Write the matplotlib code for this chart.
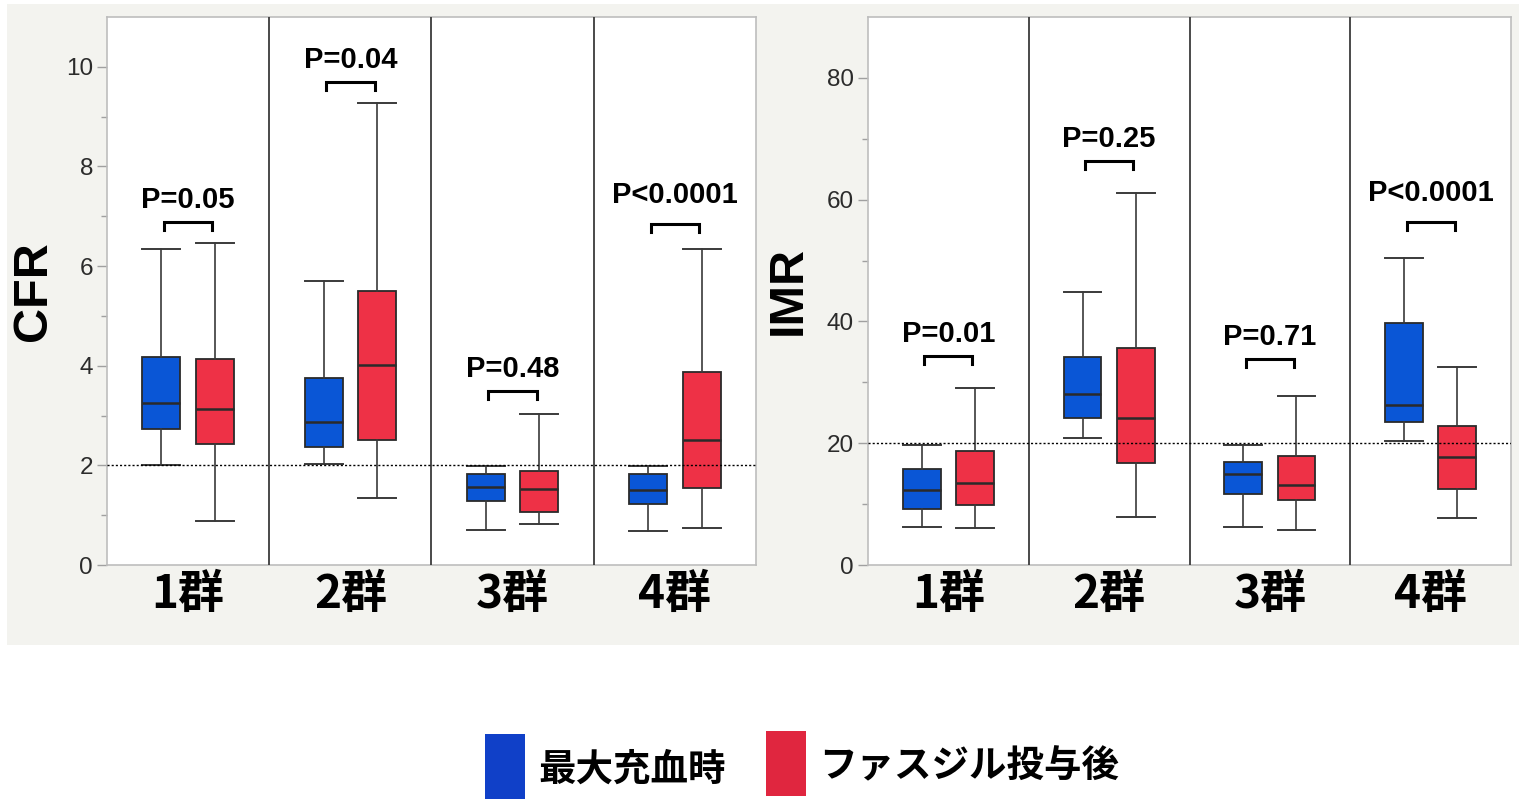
import matplotlib
matplotlib.use("Agg")
import matplotlib.pyplot as plt
from matplotlib.patches import Rectangle

# ---- data -------------------------------------------------------------
groups = ["1群", "2群", "3群", "4群"]
series = ["最大充血時", "ファスジル投与後"]

# CFR: maximal hyperemia
cfr_max_low = [2.00, 2.03, 0.70, 0.68]
cfr_max_q1 = [2.72, 2.37, 1.29, 1.23]
cfr_max_med = [3.25, 2.88, 1.56, 1.50]
cfr_max_q3 = [4.18, 3.75, 1.82, 1.82]
cfr_max_high = [6.35, 5.70, 1.99, 1.99]
# CFR: after fasudil
cfr_fas_low = [0.89, 1.35, 0.82, 0.75]
cfr_fas_q1 = [2.42, 2.51, 1.07, 1.55]
cfr_fas_med = [3.14, 4.02, 1.53, 2.51]
cfr_fas_q3 = [4.14, 5.50, 1.89, 3.88]
cfr_fas_high = [6.47, 9.28, 3.03, 6.35]
cfr_p = ["P=0.05", "P=0.04", "P=0.48", "P<0.0001"]

# IMR: maximal hyperemia
imr_max_low = [6.2, 20.9, 6.2, 20.4]
imr_max_q1 = [9.2, 24.1, 11.6, 23.5]
imr_max_med = [12.3, 28.1, 14.9, 26.3]
imr_max_q3 = [15.8, 34.2, 16.9, 39.7]
imr_max_high = [19.7, 44.8, 19.7, 50.5]
# IMR: after fasudil
imr_fas_low = [6.0, 7.9, 5.75, 7.7]
imr_fas_q1 = [9.9, 16.8, 10.7, 12.5]
imr_fas_med = [13.4, 24.2, 13.1, 17.7]
imr_fas_q3 = [18.8, 35.6, 17.9, 22.8]
imr_fas_high = [29.1, 61.1, 27.8, 32.6]
imr_p = ["P=0.01", "P=0.25", "P=0.71", "P<0.0001"]

cfr_cutoff = 2
imr_cutoff = 20

# ---- style ------------------------------------------------------------
BLUE = "#0a56d6"
RED = "#ee3146"
LEG_BLUE = "#1040c8"
LEG_RED = "#e0263f"
EDGE = "#2a2a2a"
BG = "#f3f3ef"
LATIN = ["Liberation Sans", "DejaVu Sans"]
CJK = ["Noto Sans CJK JP", "DejaVu Sans"]

# bracket clearance above the taller whisker and text lift above the bracket (px)
CFR_BRACKET_GAP = [13, 13, 15, 17]
IMR_BRACKET_GAP = [24, 24, 29, 28]
TEXT_LIFT = [14, 14, 14, 21]

W, H = 1519, 801
fig = plt.figure(figsize=(W / 100, H / 100), dpi=100, facecolor="white")
fig.patches.append(Rectangle((7 / W, 1 - 645 / H), (W - 7) / W, 641 / H,
                             transform=fig.transFigure, facecolor=BG,
                             edgecolor="none", zorder=-10))

OFFSET = 0.165
BOXW = 0.235


def make_stats(low, q1, med, q3, high):
    return [dict(whislo=a, q1=b, med=c, q3=d, whishi=e, fliers=[])
            for a, b, c, d, e in zip(low, q1, med, q3, high)]


def draw_panel(ax, blue_stats, red_stats, pvals, ymax, major, minor,
               cutoff, ylabel, gaps, label_x):
    ax.set_facecolor("white")
    ax.set_xlim(0, len(groups))
    ax.set_ylim(0, ymax)
    centers = [i + 0.5 for i in range(len(groups))]

    for stats, col, shift in ((blue_stats, BLUE, -OFFSET), (red_stats, RED, OFFSET)):
        ax.bxp(stats, positions=[c + shift for c in centers], widths=BOXW,
               patch_artist=True, showfliers=False, manage_ticks=False,
               capwidths=BOXW,
               boxprops=dict(facecolor=col, edgecolor=EDGE, linewidth=1.3),
               medianprops=dict(color=EDGE, linewidth=1.8),
               whiskerprops=dict(color="#3a3a3a", linewidth=1.2),
               capprops=dict(color="#3a3a3a", linewidth=1.4))

    for x in range(1, len(groups)):
        ax.axvline(x, color="#3c3c3c", linewidth=1.3, zorder=4)
    ax.axhline(cutoff, color="black", linewidth=1.0, linestyle=(0, (1.5, 1.5)),
               zorder=6)

    # significance brackets
    px = ymax / ax.get_window_extent().height
    for c, p, bs, rs, gap, lift in zip(centers, pvals, blue_stats, red_stats,
                                       gaps, TEXT_LIFT):
        top = max(bs["whishi"], rs["whishi"])
        y0 = top + gap * px
        y1 = y0 + 8 * px
        x0, x1 = c - OFFSET + 0.015, c + OFFSET - 0.015
        ax.plot([x0, x0, x1, x1], [y0, y1, y1, y0], color="black",
                linewidth=2.2, solid_joinstyle="miter", zorder=7)
        ax.annotate(p, xy=(c, y1), xytext=(0, lift), textcoords="offset pixels",
                    ha="center", va="baseline", fontsize=21,
                    fontweight="bold", family=LATIN, zorder=8)

    ax.set_yticks(major)
    ax.set_yticks(minor, minor=True)
    ax.set_yticklabels([str(v) for v in major], fontsize=17.5,
                       family=LATIN, color="#2b2b2b")
    ax.tick_params(axis="y", which="major", length=7, width=1.0,
                   color="#a0a0a0", pad=3)
    ax.tick_params(axis="y", which="minor", length=4, width=1.0,
                   color="#a0a0a0")
    ax.set_xticks(centers)
    ax.set_xticklabels(groups, fontsize=33, fontweight="bold", family=CJK)
    ax.tick_params(axis="x", length=0, pad=5)
    for s in ax.spines.values():
        s.set_color("#bdbdbd")
        s.set_linewidth(1.2)

    ax.text(label_x, 0.5, ylabel, transform=ax.transAxes, rotation=90,
            ha="center", va="center", fontsize=35, fontweight="bold",
            family=LATIN)


ax1 = fig.add_axes([107 / W, 1 - 565 / H, (756 - 107) / W, 548 / H])
ax2 = fig.add_axes([868 / W, 1 - 565 / H, (1511 - 868) / W, 548 / H])

draw_panel(ax1,
           make_stats(cfr_max_low, cfr_max_q1, cfr_max_med, cfr_max_q3, cfr_max_high),
           make_stats(cfr_fas_low, cfr_fas_q1, cfr_fas_med, cfr_fas_q3, cfr_fas_high),
           cfr_p, 11, [0, 2, 4, 6, 8, 10], [1, 3, 5, 7, 9], cfr_cutoff,
           "CFR", CFR_BRACKET_GAP, -0.114)
draw_panel(ax2,
           make_stats(imr_max_low, imr_max_q1, imr_max_med, imr_max_q3, imr_max_high),
           make_stats(imr_fas_low, imr_fas_q1, imr_fas_med, imr_fas_q3, imr_fas_high),
           imr_p, 90, [0, 20, 40, 60, 80], [10, 30, 50, 70], imr_cutoff,
           "IMR", IMR_BRACKET_GAP, -0.124)

# legend: colour swatch + label for each series
legend_items = [(LEG_BLUE, 485, 734), (LEG_RED, 766, 731)]
for name, (col, x_px, y_px) in zip(series, legend_items):
    fig.patches.append(Rectangle((x_px / W, 1 - (y_px + 65) / H), 40 / W, 65 / H,
                                 transform=fig.transFigure, facecolor=col,
                                 edgecolor="none"))
    fig.text((x_px + 53) / W, 1 - (y_px + 35) / H, name, ha="left",
             va="center", fontsize=27, fontweight="bold", family=CJK)

fig.savefig("out.png", dpi=100, facecolor="white")
